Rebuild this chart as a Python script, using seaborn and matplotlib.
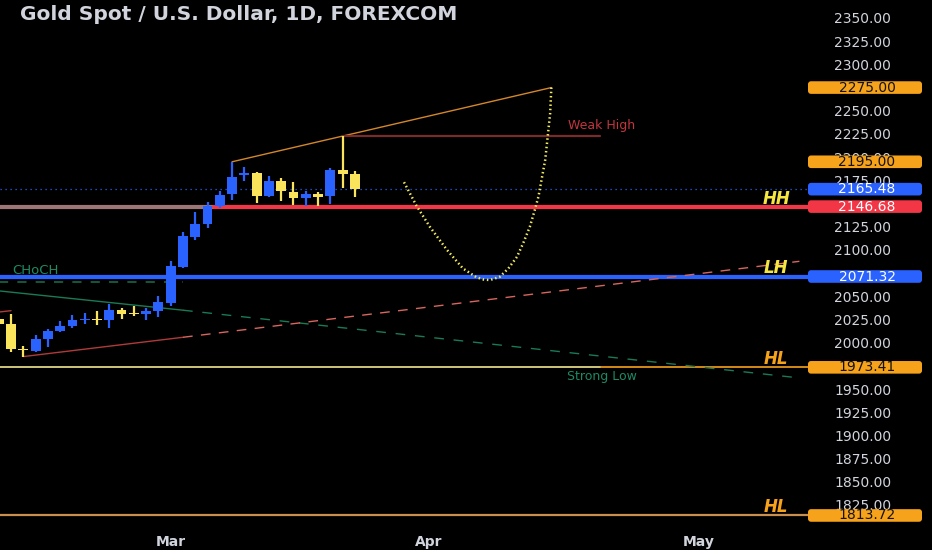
import matplotlib
matplotlib.use("Agg")
import matplotlib.pyplot as plt
import matplotlib.transforms as mtransforms
from matplotlib.patches import FancyBboxPatch
import seaborn as sns
import pandas as pd

# daily bars, index 0 = 1 Mar
bar_idx = list(range(-14, 16))
opens = [2025, 2020, 1993, 1991.5, 2004, 2012.5, 2018, 2024.5, 2025.5, 2024.5,
         2035, 2031, 2030.5, 2034.5, 2043, 2082, 2113.5, 2128, 2147.5, 2160,
         2180.5, 2182.5, 2158, 2174.5, 2162, 2155.5, 2160, 2158, 2186, 2181.5]
highs = [2031, 2031, 1996.5, 2008, 2014.5, 2023.5, 2030, 2031.5, 2034.5, 2041.5,
         2037.5, 2039.5, 2037.5, 2050, 2088, 2119.5, 2141, 2152, 2163.5, 2195,
         2189, 2184.5, 2179.5, 2177, 2173, 2164, 2162.5, 2188.5, 2223, 2185.5]
lows = [2015, 1990, 1984.5, 1990, 1995, 2012, 2015.5, 2020, 2019, 2016,
        2025, 2028.5, 2024.5, 2028, 2039.5, 2080, 2110.5, 2124, 2145, 2154,
        2174.5, 2151, 2156.5, 2152.5, 2148.5, 2147.5, 2147.5, 2150, 2166.5, 2157.5]
closes = [2020, 1993, 1992, 2004, 2013, 2018, 2024, 2025.5, 2024.5, 2035,
          2031, 2030.5, 2034.5, 2044, 2082.5, 2114.5, 2128, 2147.5, 2159, 2179,
          2183, 2158, 2174.5, 2163, 2155.5, 2160, 2157.5, 2186, 2181.5, 2165.5]

# projected path (yellow dotted)
path_x = [19.0, 20.0, 21.1, 22.5, 23.8, 24.9, 25.5, 26.0, 26.8, 27.5, 28.2,
          28.7, 29.25, 29.65, 29.95, 30.2, 30.5, 30.7, 30.9, 31.0]
path_y = [2173, 2148, 2125, 2100, 2080, 2070.5, 2068, 2067.5, 2071, 2080, 2092.5,
          2107, 2125, 2143, 2157.5, 2175.5, 2197, 2222, 2247, 2275]

# drawn lines: (x0, y0, x1, y1[, x2, y2])
upper_trend = (5, 2195, 31.0, 2275)
weak_high = (14, 2223, 35.0, 2223)
green_trend = (-13.9, 2055.7, 1.0, 2035.0, 50.7, 1962.7)
red_trend = (-12, 1985, 1.0, 2005.8, 51.2, 2087.7)
choch_level = 2065.4

hh_level = 2146.68
lh_level = 2071.32
hl_level = 1973.41
hl2_level = 1813.72
last_price = 2165.48

price_ticks = [1825, 1850, 1875, 1900, 1925, 1950, 1975, 2000, 2025, 2050, 2075,
               2100, 2125, 2150, 2175, 2200, 2225, 2250, 2275, 2300, 2325, 2350]
month_pos = [0, 21, 43]
month_labels = ["Mar", "Apr", "May"]

tag_values = [2275.00, 2195.00, 2165.48, 2146.68, 2071.32, 1973.41, 1813.72]
tag_face = ["#f7a21b", "#f7a21b", "#2962ff", "#f23645", "#2962ff", "#f7a21b", "#f7a21b"]
tag_text = ["#131313", "#131313", "#ffffff", "#ffffff", "#ffffff", "#131313", "#131313"]

BLUE = "#2962ff"
YELLOW = "#f9e45b"
TXT = "#d1d4dc"

sns.set_theme(style="dark", rc={"axes.facecolor": "black", "figure.facecolor": "black",
                                "axes.grid": False})
plt.rcParams["font.family"] = ["DejaVu Sans"]

df = pd.DataFrame({"i": bar_idx, "o": opens, "h": highs, "l": lows, "c": closes})
df["up"] = df["c"] >= df["o"]

fig = plt.figure(figsize=(9.32, 5.5), dpi=100)
ax = fig.add_axes([0, 22 / 550, 808 / 932, 528 / 550])
for s in ax.spines.values():
    s.set_visible(False)

# horizontal levels
ax.axhline(last_price, color=BLUE, lw=0.9, ls=(0, (1, 3)), zorder=2)
ax.plot([-14, 3.5], [hh_level, hh_level], color="#9c7676", lw=3, zorder=2)
ax.plot([3.5, 60], [hh_level, hh_level], color="#f23645", lw=3, zorder=2)
ax.axhline(lh_level, color=BLUE, lw=3, zorder=2)
ax.axhline(hl_level, color="#f7a21b", lw=1.2, zorder=2)
ax.plot([-14, 35], [hl_level, hl_level], color="#c9cc8c", lw=1.2, zorder=2)
ax.axhline(hl2_level, color="#c98f4c", lw=1.6, zorder=2)
ax.plot([-14, 1.0], [choch_level, choch_level], color="#1b6e4d", lw=1.1,
        ls=(0, (6, 6)), zorder=2)

# trend lines
ax.plot(upper_trend[0::2], upper_trend[1::2], color="#d4872a", lw=1, zorder=2)
ax.plot(weak_high[0::2], weak_high[1::2], color="#7a2c2c", lw=1.6, zorder=2)
ax.plot(green_trend[0:4:2], green_trend[1:4:2], color="#1a7a55", lw=1, zorder=2)
ax.plot(green_trend[2::2], green_trend[3::2], color="#1a7a55", lw=1,
        ls=(0, (7, 7)), zorder=2)
ax.plot(red_trend[0:4:2], red_trend[1:4:2], color="#b03a3a", lw=1, zorder=2)
ax.plot(red_trend[2::2], red_trend[3::2], color="#d9665e", lw=1,
        ls=(0, (7, 6)), zorder=2)
ax.plot([-14, -13], [2033, 2034.5], color="#b03a3a", lw=1, zorder=2)

# candles
cols = [BLUE if u else YELLOW for u in df["up"]]
ax.vlines(df["i"], df["l"], df["h"], colors=cols, lw=1.6, zorder=4)
body = (df["c"] - df["o"]).abs().clip(lower=1.4)
ax.bar(df["i"], body, bottom=df[["o", "c"]].min(axis=1), width=0.8,
       color=cols, zorder=4, linewidth=0)

# projected path
sns.lineplot(x=path_x, y=path_y, sort=False, estimator=None, ax=ax,
             color="#f2ec5a", lw=1.8, ls=(0, (0.6, 1.1)), zorder=5)

# labels on chart
ax.text(-11.0, 2078, "CHoCH", color="#1e8c62", fontsize=9.5, ha="center", va="center")
ax.text(35.1, 2234, "Weak High", color="#c2363f", fontsize=9, ha="center", va="center")
ax.text(35.1, 1963.5, "Strong Low", color="#1c8a64", fontsize=9, ha="center", va="center")
for y, s, c in [(2155, "HH", "#f5e642"), (2080.5, "LH", "#f5e642"),
                (1982, "HL", "#f7a21b"), (1822.3, "HL", "#f7a21b")]:
    ax.text(49.3, y, s, color=c, fontsize=12, fontweight="bold", style="italic",
            ha="center", va="center", zorder=6)

ax.set_xlim(-13.9, 51.9)
ax.set_ylim(1800.2, 2369.4)

# scale labels fully hidden behind a price tag are left blank
tick_text = ["" if any(abs(t - v) < 4 for v in tag_values) else f"{t:.2f}"
             for t in price_ticks]
ax.yaxis.tick_right()
ax.set_yticks(price_ticks, tick_text)
ax.tick_params(axis="y", length=0, pad=19, labelsize=10, labelcolor=TXT)
ax.set_xticks(month_pos, month_labels)
ax.tick_params(axis="x", length=0, pad=5, labelsize=10, labelcolor=TXT)
for t in ax.get_xticklabels():
    t.set_fontweight("bold")

# price tags on the right scale
trans = mtransforms.blended_transform_factory(fig.transFigure, ax.transData)
for v, fc, tc in zip(tag_values, tag_face, tag_text):
    p = FancyBboxPatch((808 / 932, v - 6.8), 114 / 932, 13.6,
                       boxstyle="round,pad=0,rounding_size=0.0032",
                       mutation_aspect=1005, transform=trans, facecolor=fc,
                       edgecolor="none", zorder=5)
    fig.add_artist(p)
    fig.text(867 / 932, v, f"{v:.2f}", transform=trans, color=tc, fontsize=10,
             ha="center", va="center", zorder=6)

fig.text(20 / 932, 1 - 14 / 550, "Gold Spot / U.S. Dollar, 1D, FOREXCOM",
         color=TXT, fontsize=14.5, fontweight="semibold", ha="left", va="center")

fig.savefig("out.png", dpi=100, facecolor="black")
